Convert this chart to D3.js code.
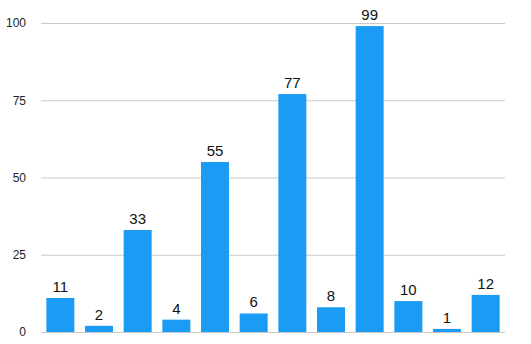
<!DOCTYPE html>
<html>
<head>
<meta charset="utf-8">
<script src="https://cdn.jsdelivr.net/npm/d3@7"></script>
<style>
  body { margin: 0; background: #fff; }
  svg { display: block; font-family: "Liberation Sans", Arial, Helvetica, sans-serif; }
</style>
</head>
<body>
<div id="chart"></div>
<script>
// Data
const categories = ["A", "B", "C", "D", "E", "F", "G", "H", "I", "J", "K", "L"];
const values = [11, 2, 33, 4, 55, 6, 77, 8, 99, 10, 1, 12];
const yTicks = [0, 25, 50, 75, 100];

// Layout
const width = 531;
const height = 344;
const margin = { top: 23, right: 26, bottom: 12, left: 41 };

const svg = d3.select("#chart")
    .append("svg")
    .attr("width", width)
    .attr("height", height);

const x = d3.scaleBand()
    .domain(categories)
    .range([margin.left, width - margin.right])
    .paddingInner(0.276)
    .paddingOuter(0.138);

const y = d3.scaleLinear()
    .domain([0, 100])
    .range([height - margin.bottom, margin.top]);

// Gridlines + tick labels
const yAxis = d3.axisLeft(y)
    .tickValues(yTicks)
    .tickSize(-(width - margin.left - margin.right))
    .tickPadding(15);

const axisG = svg.append("g")
    .attr("transform", `translate(${margin.left},0)`)
    .call(yAxis);

axisG.select(".domain").remove();
axisG.selectAll(".tick line")
    .attr("stroke", "#c9c9c9")
    .attr("stroke-width", 1);
axisG.selectAll(".tick text")
    .attr("fill", "#222")
    .style("font-size", "12px");

// Bars
svg.selectAll(".bar")
    .data(values)
    .enter()
    .append("rect")
    .attr("class", "bar")
    .attr("x", (d, i) => x(categories[i]))
    .attr("y", d => y(d))
    .attr("width", x.bandwidth())
    .attr("height", d => y(0) - y(d))
    .attr("fill", "#1a9cf4");

// Value labels
svg.selectAll(".value")
    .data(values)
    .enter()
    .append("text")
    .attr("class", "value")
    .attr("x", (d, i) => x(categories[i]) + x.bandwidth() / 2)
    .attr("y", d => y(d) - 6)
    .attr("text-anchor", "middle")
    .attr("fill", "#111")
    .style("font-size", "15px")
    .text(d => d);
</script>
</body>
</html>
